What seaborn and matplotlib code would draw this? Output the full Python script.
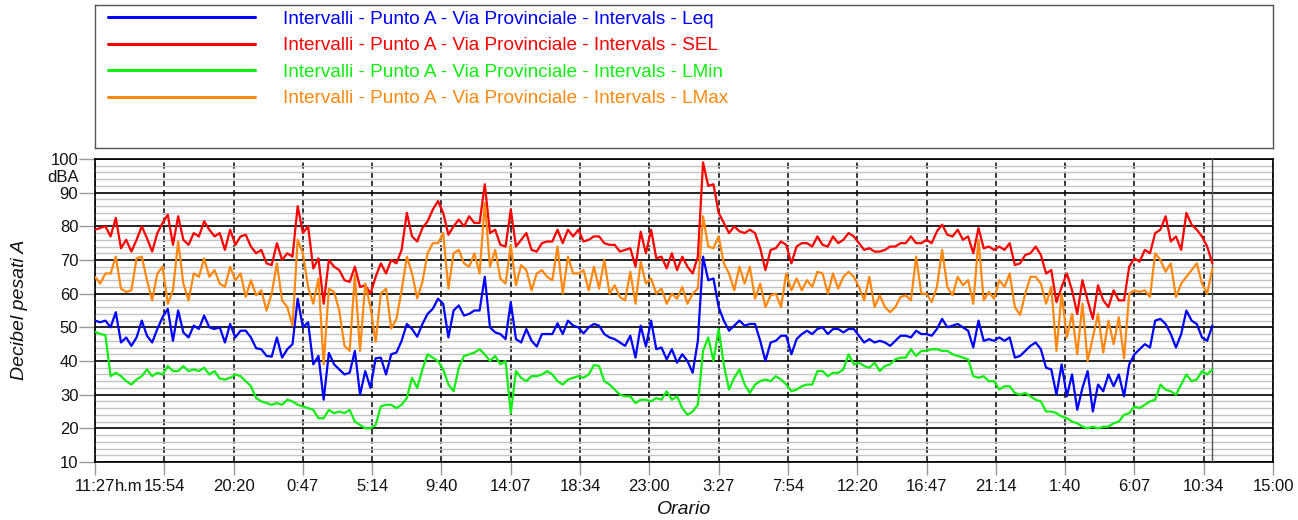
import numpy as np
import pandas as pd
import matplotlib
matplotlib.use('Agg')
import matplotlib.pyplot as plt
import seaborn as sns
from matplotlib.lines import Line2D
from matplotlib.ticker import MultipleLocator
from matplotlib.transforms import ScaledTranslation

# ---------------- data (dBA, one value every 20 minutes from 11:27) ----------------
interval_min = 20
tick_step_min = 266.6667  # 4h26m40s between axis labels

tick_labels = ['11:27', '15:54', '20:20', '0:47', '5:14', '9:40', '14:07', '18:34', '23:00',
               '3:27', '7:54', '12:20', '16:47', '21:14', '1:40', '6:07', '10:34', '15:00']

series_names = ['Intervalli - Punto A - Via Provinciale - Intervals - Leq',
                'Intervalli - Punto A - Via Provinciale - Intervals - SEL',
                'Intervalli - Punto A - Via Provinciale - Intervals - LMin',
                'Intervalli - Punto A - Via Provinciale - Intervals - LMax']
series_colors = ['#0000ff', '#ff0000', '#11ee11', '#ff8811']

leq = [52, 51.5, 52, 50, 54.5, 45.5, 47, 44.5, 47, 52, 47.5, 45.5, 49.5, 53, 55.5, 46, 55, 48.5, 47, 50.5,
       49.5, 53.5, 50, 49.5, 50, 45.5, 51, 47, 49, 49, 47,
       43.8, 43.5, 41.5, 41.3, 47, 41, 43.5, 45, 58.5, 50, 51.5, 39, 41.5, 28.5, 42.4, 39, 37.5, 36, 36.5, 43,
       30, 37, 32, 40.8, 41, 36, 42, 42.5, 46, 51, 49.5,
       47.2, 51, 54, 55.5, 58.5, 57, 47, 55, 56.5, 53.5, 54, 55, 55, 65, 50, 48.5, 48, 46.5, 57.5, 46.5,
       45.5, 49.5, 46, 44.3, 48, 48, 48, 51.2, 48, 52, 50.5,
       50, 48.2, 50, 51, 50.5, 48, 47, 46.5, 45.5, 44.5, 47.5, 41, 50.5, 44.3, 52, 43.5, 44, 40.5, 43.5, 39.5,
       42, 40, 36.5, 46, 71, 64, 64.5, 56, 52, 49, 50.5,
       52, 50.5, 51, 51, 46, 40, 45.5, 46, 47.5, 47.5, 42, 46.5, 48, 49, 48, 49.5, 50, 48, 49.5, 49.5,
       48.5, 49.5, 49.5, 47.5, 45.5, 46.5, 45.5, 46, 45.5, 44.5,
       46, 47.5, 47.5, 47, 49, 48, 48, 47.5, 49.5, 52.5, 50, 50.5, 51, 50, 49, 44, 52, 46, 46.5, 46,
       47, 46, 47, 41, 41.5, 43, 44.5, 45.5, 43.5, 38, 37.5,
       30, 39, 29.5, 36, 25.5, 32, 37, 25, 33, 31, 36, 32.5, 36, 29.5, 39, 42, 43.5, 45, 44, 52,
       52.5, 51, 48, 44, 48, 55, 52, 51, 47, 46, 50.5]

sel = [79, 79.5, 80, 77, 82.5, 73.5, 76, 72.5, 76, 80, 76.5, 72.5, 78, 81, 83.5, 74.5, 83, 76, 74.5, 78,
       77, 81.5, 79, 77, 78, 73, 79, 74.5, 77, 77.5, 74,
       72, 73, 69, 68.5, 75, 70, 72, 71, 86, 78, 80, 67.5, 70.5, 57, 70, 68, 67, 64, 63.5, 68,
       62, 62.5, 60, 65, 69, 66, 70, 69, 73, 84, 77,
       75.5, 79.5, 81.5, 85, 87.5, 84, 77.5, 80, 82, 80, 83, 81, 81, 92.5, 78, 79, 74.5, 74, 85, 74,
       76, 78, 73, 72.5, 75, 75.5, 75.5, 79, 75, 79, 77,
       79, 75.5, 76, 77, 77, 75, 74.5, 74.5, 72.5, 73, 73.5, 68, 78.4, 72, 79, 70.5, 71, 67.5, 72, 67,
       71, 68, 66, 71, 99, 92, 92.5, 84, 81, 78, 80,
       78.5, 78, 79, 78, 73.5, 67, 73, 73.5, 75.5, 74.5, 69, 74, 75, 75, 74, 77, 74.5, 74, 77, 75,
       76, 78, 77, 75, 73, 73.5, 72.5, 72.5, 73, 74,
       74, 75, 75, 77, 75, 75, 76, 75, 78.5, 80.5, 77.5, 77, 79, 76, 77, 72, 79.5, 73.5, 74, 73,
       74, 73, 75, 68.5, 69, 71.5, 72, 74, 71.5, 66, 67,
       57.5, 62, 66, 61, 54, 64, 58, 52.5, 62.5, 58, 56, 61, 58, 58, 68, 70.5, 69.5, 73, 72, 78,
       79, 83, 75.5, 77, 73, 84, 80.5, 79, 77, 74, 69]

lmin = [48.7, 48, 47.7, 35.5, 36.5, 35.5, 34, 33, 34.5, 35.5, 37.5, 35.5, 36.5, 36, 38.5, 37, 37, 38.5, 37, 37.5,
        37, 38, 36, 37, 34.8, 34.5, 35, 36, 35.5, 34, 32.5,
        29, 28, 27.5, 27, 27.5, 27, 28.5, 28, 27, 26.5, 26, 25.5, 23, 23, 25.5, 24.5, 25, 24.5, 25.5, 22,
        21, 20, 20, 21, 26.5, 27, 27, 26, 27, 29, 35,
        32, 37.5, 42, 41, 40, 37.5, 33, 31, 38, 41.5, 42, 42.5, 43.5, 42, 40, 41.5, 39, 40, 24.5, 37,
        35, 34, 35.5, 35.5, 36, 37, 36, 34, 33, 34.5, 35,
        35.5, 35, 36, 38.8, 38.5, 34, 33, 31.5, 30, 29.5, 29.5, 27.5, 28.5, 28.5, 28, 29, 28.5, 31, 28.5, 29.5,
        26, 24, 25, 27, 43, 47, 40, 49.5, 38.8, 31.5, 35,
        37.5, 33, 30.5, 33, 34, 34.5, 34, 35.5, 34.5, 33, 31, 31.5, 32.5, 33, 33, 37, 37, 35.5, 36.5, 36.5,
        37.5, 42, 39, 39.5, 38.5, 38, 39.5, 37, 38.5, 39,
        40.5, 41, 41, 43.5, 41.5, 43, 43, 43.5, 43.5, 43, 43, 42, 41.5, 41, 40.5, 35.5, 35, 35.5, 34, 34,
        31.5, 32.5, 32.5, 30.5, 30, 30.5, 29.5, 28.5, 28, 25, 25,
        24.5, 23.5, 23, 22, 21.5, 20.5, 20, 20.5, 20, 20.5, 20.5, 21.5, 22, 24, 24.5, 26.5, 26, 27, 28, 28.5,
        33, 31.5, 31, 30, 33, 36, 34, 34.5, 37, 36, 37.5]

lmax = [65, 63, 66, 66, 71, 61.5, 60.5, 61, 70.5, 71, 64, 58, 66, 68, 57, 61, 75.5, 63, 58, 66,
        65, 70.5, 65, 67, 63, 62, 68, 64, 66, 59, 64,
        59.5, 61, 55, 60, 69, 58, 56, 50.5, 76, 72, 62, 57, 64.5, 39, 61.5, 60.5, 55, 44.5, 43, 65.5,
        43, 63, 56, 45.7, 60, 61.5, 49.6, 52.5, 61, 71, 66,
        58.6, 63.5, 72, 75, 75, 78, 61.5, 72, 73, 69, 68, 72, 66, 87, 68, 73, 64.5, 63, 74.5, 62.5,
        68.5, 67, 61, 66, 67, 65, 64, 74, 60, 71, 66,
        66, 67, 61, 68, 61.5, 70, 60, 62.5, 59, 58, 66.5, 57, 69.5, 63, 64.5, 60, 61.5, 57, 60, 58.5,
        62, 57, 60, 61.5, 83, 74, 73.5, 77, 69, 66, 61,
        68, 63, 68, 58.5, 63, 56, 59.5, 60, 56, 66, 61, 64.5, 61, 64, 62, 66.5, 66, 60, 66, 61.5,
        65, 66.5, 65, 62, 58, 65, 56, 59.5, 56, 54.5,
        56, 59, 59.5, 58, 71, 60, 60, 57.5, 62, 73, 62, 59.5, 65, 62.5, 64, 57, 76, 58, 60.5, 58.5,
        64, 62, 66, 56, 53.7, 60, 65, 65, 63, 57, 62,
        43, 60, 47, 54, 42, 57, 40, 47, 54, 42.5, 52, 45, 53, 40.8, 60, 61, 60.5, 61, 59, 72,
        70, 66.5, 69, 59, 63, 65, 67, 69, 63, 60, 67.5]

# ---------------- build long table ----------------
frames = []
for name, vals in zip(series_names, [leq, sel, lmin, lmax]):
    frames.append(pd.DataFrame({'t': np.arange(len(vals)) * interval_min,
                                'dB': vals, 'serie': name}))
df = pd.concat(frames, ignore_index=True)

# ---------------- figure ----------------
sns.set_theme(style='white')
plt.rcParams['font.family'] = ['Liberation Sans', 'DejaVu Sans']
FS = 12      # tick labels
FL = 14      # axis titles
FLEG = 13.7  # legend
W, H = 1298, 520
fig = plt.figure(figsize=(W / 100, H / 100), dpi=100)

ax = fig.add_axes([95 / W, 1 - 462 / H, 1178 / W, (462 - 159) / H])
palette = dict(zip(series_names, series_colors))
sns.lineplot(data=df, x='t', y='dB', hue='serie', palette=palette, estimator=None,
             linewidth=1.6, legend=False, ax=ax, zorder=5)

ax.set_xlim(0, tick_step_min * (len(tick_labels) - 1))
ax.set_ylim(10, 100)
ax.set_axisbelow(True)

ax.set_xticks([i * tick_step_min for i in range(len(tick_labels))])
ax.set_xticklabels(tick_labels, fontsize=FS, color='#111111')
ax.set_yticks(range(10, 101, 10))
ax.set_yticklabels([str(v) for v in range(10, 101, 10)], fontsize=FS, color='#111111')
ax.yaxis.set_minor_locator(MultipleLocator(2))

ax.tick_params(axis='y', which='major', length=11.5, width=1, color='#999999', pad=0.5, left=True)
ax.tick_params(axis='y', which='minor', length=0)
ax.tick_params(axis='x', which='major', length=9.5, width=1, color='#999999', pad=3, bottom=True)

ax.grid(which='minor', axis='y', color='#c4c4c4', linewidth=1.0)
ax.grid(which='major', axis='y', color='black', linewidth=1.2)
ax.grid(which='major', axis='x', color='black', linewidth=1.1, linestyle=(0, (4, 2)))

for s in ax.spines.values():
    s.set_color('black')
    s.set_linewidth(1.2)

ax.set_xlabel('')
ax.set_ylabel('')

# end-of-measurement marker
ax.axvline(df['t'].max(), color='#555555', linewidth=1.0, zorder=4)

# "h.m" suffix right after the first time label
tr, va, ha = ax.get_xaxis_text1_transform(9.5 + 3)
ax.text(0, 0, 'h.m', transform=tr + ScaledTranslation(20 / 100, 0, fig.dpi_scale_trans),
        va='top', ha='left', fontsize=FS, color='#111111')

# unit under 100
ax.text(-16 / 1178, 94.4, 'dBA', transform=ax.get_yaxis_transform(), ha='right', va='center',
        fontsize=FS, color='#111111')

fig.text(20 / W, 1 - 310 / H, 'Decibel pesati A', rotation=90, ha='center', va='center',
         fontsize=FL, style='italic', color='#111111')
fig.text(684 / W, 1 - 510 / H, 'Orario', ha='center', va='center',
         fontsize=FL, style='italic', color='#111111')

# ---------------- legend box ----------------
lax = fig.add_axes([95 / W, 1 - 148 / H, 1178 / W, 143 / H])
lax.set_xticks([])
lax.set_yticks([])
for s in lax.spines.values():
    s.set_color('#555555')
    s.set_linewidth(1.0)
lax.set_facecolor('white')

em = FLEG * 100 / 72
handles = [Line2D([], [], color=c, linewidth=2.2) for c in series_colors]
leg = fig.legend(handles, series_names, loc='upper left',
                 bbox_to_anchor=(108 / W, 1 - 10.5 / H), frameon=False, fontsize=FLEG,
                 handlelength=147 / em, handletextpad=28 / em, labelspacing=0.48,
                 borderpad=0, borderaxespad=0)
for txt, c in zip(leg.get_texts(), series_colors):
    txt.set_color(c)

fig.savefig('out.png', dpi=100)
